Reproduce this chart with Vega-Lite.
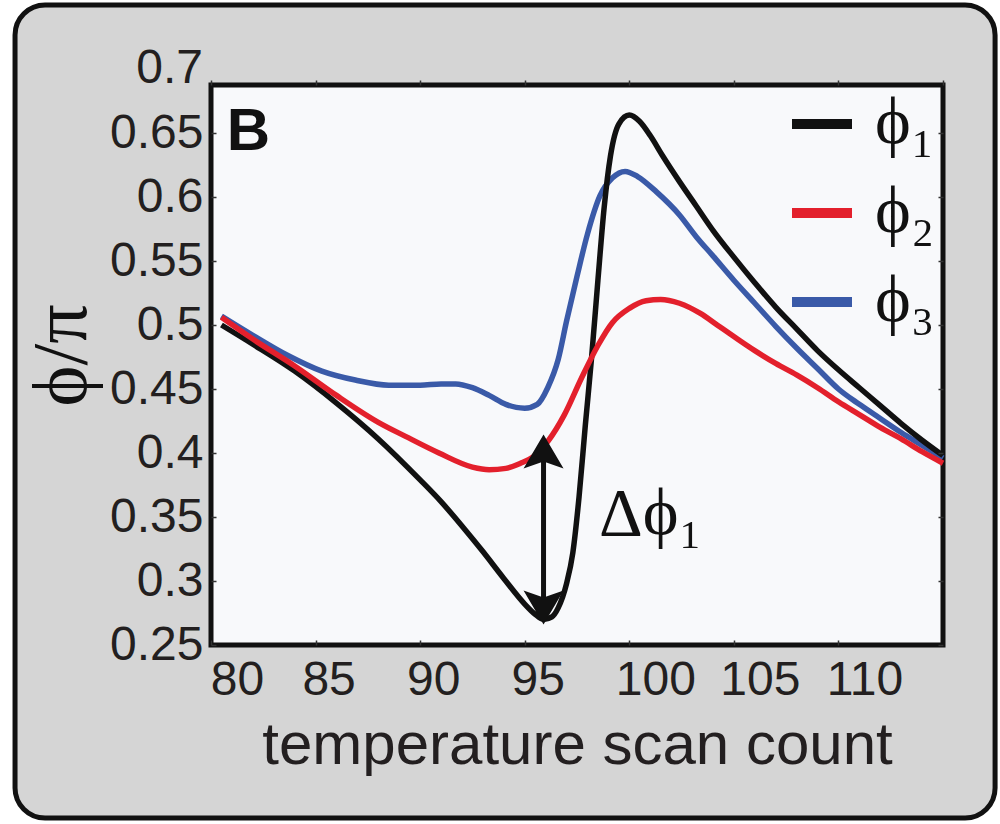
{
  "$schema": "https://vega.github.io/schema/vega-lite/v6.json",
  "width": 732,
  "height": 560,
  "autosize": {"type": "none"},
  "padding": {"left": 211, "top": 85, "right": 57, "bottom": 179},
  "background": "white",
  "config": {
    "view": {"stroke": null, "fill": null},
    "axis": {"grid": false, "domain": false, "labelFlush": false, "labelOverlap": false, "labelBound": false},
    "text": {"font": "Liberation Sans"}
  },
  "datasets": {
    "one": [{}],
    "curves": [
      {"series": "ϕ₃", "t": 80.5, "phi": 0.507}, {"series": "ϕ₃", "t": 82, "phi": 0.492}, {"series": "ϕ₃", "t": 83.7, "phi": 0.476}, {"series": "ϕ₃", "t": 85.3, "phi": 0.464}, {"series": "ϕ₃", "t": 86.9, "phi": 0.457}, {"series": "ϕ₃", "t": 88.5, "phi": 0.453}, {"series": "ϕ₃", "t": 90, "phi": 0.453}, {"series": "ϕ₃", "t": 91, "phi": 0.454}, {"series": "ϕ₃", "t": 91.7, "phi": 0.454}, {"series": "ϕ₃", "t": 92.5, "phi": 0.451}, {"series": "ϕ₃", "t": 93.3, "phi": 0.445}, {"series": "ϕ₃", "t": 94.1, "phi": 0.438}, {"series": "ϕ₃", "t": 95.0, "phi": 0.435}, {"series": "ϕ₃", "t": 95.6, "phi": 0.438}, {"series": "ϕ₃", "t": 96.1, "phi": 0.451}, {"series": "ϕ₃", "t": 96.6, "phi": 0.473}, {"series": "ϕ₃", "t": 97.0, "phi": 0.503}, {"series": "ϕ₃", "t": 97.5, "phi": 0.538}, {"series": "ϕ₃", "t": 98.0, "phi": 0.571}, {"series": "ϕ₃", "t": 98.6, "phi": 0.601}, {"series": "ϕ₃", "t": 99.2, "phi": 0.615}, {"series": "ϕ₃", "t": 99.8, "phi": 0.620}, {"series": "ϕ₃", "t": 100.4, "phi": 0.616}, {"series": "ϕ₃", "t": 101.3, "phi": 0.604}, {"series": "ϕ₃", "t": 102.4, "phi": 0.586}, {"series": "ϕ₃", "t": 103.2, "phi": 0.569}, {"series": "ϕ₃", "t": 104, "phi": 0.554}, {"series": "ϕ₃", "t": 105, "phi": 0.535}, {"series": "ϕ₃", "t": 106, "phi": 0.517}, {"series": "ϕ₃", "t": 107, "phi": 0.499}, {"series": "ϕ₃", "t": 108, "phi": 0.482}, {"series": "ϕ₃", "t": 109, "phi": 0.466}, {"series": "ϕ₃", "t": 110, "phi": 0.450}, {"series": "ϕ₃", "t": 111, "phi": 0.438}, {"series": "ϕ₃", "t": 112, "phi": 0.427}, {"series": "ϕ₃", "t": 113, "phi": 0.416}, {"series": "ϕ₃", "t": 114, "phi": 0.406}, {"series": "ϕ₃", "t": 115, "phi": 0.396},
      {"series": "ϕ₁", "t": 80.5, "phi": 0.500}, {"series": "ϕ₁", "t": 82, "phi": 0.485}, {"series": "ϕ₁", "t": 84, "phi": 0.464}, {"series": "ϕ₁", "t": 86, "phi": 0.439}, {"series": "ϕ₁", "t": 88, "phi": 0.411}, {"series": "ϕ₁", "t": 90, "phi": 0.379}, {"series": "ϕ₁", "t": 91, "phi": 0.362}, {"series": "ϕ₁", "t": 92, "phi": 0.343}, {"series": "ϕ₁", "t": 93, "phi": 0.323}, {"series": "ϕ₁", "t": 94, "phi": 0.302}, {"series": "ϕ₁", "t": 95, "phi": 0.282}, {"series": "ϕ₁", "t": 95.5, "phi": 0.274}, {"series": "ϕ₁", "t": 95.9, "phi": 0.270}, {"series": "ϕ₁", "t": 96.3, "phi": 0.272}, {"series": "ϕ₁", "t": 96.6, "phi": 0.279}, {"series": "ϕ₁", "t": 97.0, "phi": 0.298}, {"series": "ϕ₁", "t": 97.3, "phi": 0.322}, {"series": "ϕ₁", "t": 97.6, "phi": 0.366}, {"series": "ϕ₁", "t": 97.9, "phi": 0.422}, {"series": "ϕ₁", "t": 98.2, "phi": 0.475}, {"series": "ϕ₁", "t": 98.5, "phi": 0.535}, {"series": "ϕ₁", "t": 98.8, "phi": 0.592}, {"series": "ϕ₁", "t": 99.1, "phi": 0.632}, {"series": "ϕ₁", "t": 99.5, "phi": 0.657}, {"series": "ϕ₁", "t": 100.0, "phi": 0.664}, {"series": "ϕ₁", "t": 100.5, "phi": 0.659}, {"series": "ϕ₁", "t": 101.0, "phi": 0.648}, {"series": "ϕ₁", "t": 101.6, "phi": 0.632}, {"series": "ϕ₁", "t": 102.4, "phi": 0.612}, {"series": "ϕ₁", "t": 103.2, "phi": 0.593}, {"series": "ϕ₁", "t": 104, "phi": 0.574}, {"series": "ϕ₁", "t": 105, "phi": 0.553}, {"series": "ϕ₁", "t": 106, "phi": 0.533}, {"series": "ϕ₁", "t": 107, "phi": 0.514}, {"series": "ϕ₁", "t": 108, "phi": 0.497}, {"series": "ϕ₁", "t": 109, "phi": 0.480}, {"series": "ϕ₁", "t": 110, "phi": 0.465}, {"series": "ϕ₁", "t": 111, "phi": 0.451}, {"series": "ϕ₁", "t": 112, "phi": 0.437}, {"series": "ϕ₁", "t": 113, "phi": 0.423}, {"series": "ϕ₁", "t": 114, "phi": 0.410}, {"series": "ϕ₁", "t": 115, "phi": 0.398},
      {"series": "ϕ₂", "t": 80.5, "phi": 0.506}, {"series": "ϕ₂", "t": 82, "phi": 0.489}, {"series": "ϕ₂", "t": 84, "phi": 0.468}, {"series": "ϕ₂", "t": 86, "phi": 0.445}, {"series": "ϕ₂", "t": 88, "phi": 0.424}, {"series": "ϕ₂", "t": 89.3, "phi": 0.413}, {"series": "ϕ₂", "t": 90.9, "phi": 0.400}, {"series": "ϕ₂", "t": 92.5, "phi": 0.389}, {"series": "ϕ₂", "t": 93.3, "phi": 0.387}, {"series": "ϕ₂", "t": 94.1, "phi": 0.388}, {"series": "ϕ₂", "t": 94.8, "phi": 0.392}, {"series": "ϕ₂", "t": 95.4, "phi": 0.397}, {"series": "ϕ₂", "t": 96.1, "phi": 0.409}, {"series": "ϕ₂", "t": 96.9, "phi": 0.430}, {"series": "ϕ₂", "t": 97.7, "phi": 0.458}, {"series": "ϕ₂", "t": 98.5, "phi": 0.484}, {"series": "ϕ₂", "t": 99.2, "phi": 0.502}, {"series": "ϕ₂", "t": 100, "phi": 0.513}, {"series": "ϕ₂", "t": 100.8, "phi": 0.519}, {"series": "ϕ₂", "t": 101.5, "phi": 0.520}, {"series": "ϕ₂", "t": 102.4, "phi": 0.517}, {"series": "ϕ₂", "t": 103.4, "phi": 0.509}, {"series": "ϕ₂", "t": 104.2, "phi": 0.500}, {"series": "ϕ₂", "t": 105, "phi": 0.491}, {"series": "ϕ₂", "t": 106, "phi": 0.480}, {"series": "ϕ₂", "t": 107, "phi": 0.470}, {"series": "ϕ₂", "t": 108, "phi": 0.461}, {"series": "ϕ₂", "t": 109, "phi": 0.451}, {"series": "ϕ₂", "t": 110, "phi": 0.440}, {"series": "ϕ₂", "t": 111, "phi": 0.430}, {"series": "ϕ₂", "t": 112, "phi": 0.420}, {"series": "ϕ₂", "t": 113, "phi": 0.411}, {"series": "ϕ₂", "t": 114, "phi": 0.401}, {"series": "ϕ₂", "t": 115, "phi": 0.392}
    ]
  },
  "layer": [
    {
      "data": {"name": "one"},
      "mark": {"type": "rect", "fill": "#d5d5d5", "stroke": "#111111", "strokeWidth": 5, "cornerRadius": 30},
      "encoding": {
        "x": {"datum": 70.63, "type": "quantitative", "scale": {"domain": [80, 115], "nice": false, "zero": false}, "axis": null},
        "x2": {"datum": 117.49},
        "y": {"datum": 0.75, "type": "quantitative", "scale": {"domain": [0.25, 0.6875], "nice": false, "zero": false}, "axis": null},
        "y2": {"datum": 0.1148}
      }
    },
    {
      "data": {"name": "one"},
      "mark": {"type": "rect", "fill": "#f8f9fb", "stroke": "#111111", "strokeWidth": 5},
      "encoding": {
        "x": {"datum": 80, "type": "quantitative", "scale": {"domain": [80, 115], "nice": false, "zero": false}, "axis": null},
        "x2": {"datum": 115},
        "y": {"datum": 0.25, "type": "quantitative", "scale": {"domain": [0.25, 0.6875], "nice": false, "zero": false}, "axis": null},
        "y2": {"datum": 0.6875}
      }
    },
    {
      "data": {"name": "curves"},
      "mark": {"type": "line", "strokeWidth": 5.5, "interpolate": "monotone"},
      "encoding": {
        "x": {"field": "t", "type": "quantitative", "scale": {"domain": [80, 115], "nice": false, "zero": false},
          "axis": {"orient": "bottom", "zindex": 2, "values": [80, 85, 90, 95, 100, 105, 110], "format": "d", "tickSize": -5, "tickWidth": 1.5, "tickColor": "#333333",
            "labelFont": "Liberation Sans", "labelFontSize": 48, "labelColor": "#231f20", "labelPadding": 16,
            "labelOffset": {"condition": {"test": "datum.value == 80 || datum.value >= 100", "value": 26}, "value": 13},
            "title": "temperature scan count", "titleFont": "Liberation Sans", "titleFontSize": 60, "titleFontWeight": "normal", "titleColor": "#231f20", "titlePadding": 12}},
        "y": {"field": "phi", "type": "quantitative", "scale": {"domain": [0.25, 0.6875], "nice": false, "zero": false},
          "axis": {"orient": "left", "zindex": 2, "values": [0.25, 0.3, 0.35, 0.4, 0.45, 0.5, 0.55, 0.6, 0.65], "format": "~g", "tickSize": -5, "tickWidth": 1.5, "tickColor": "#333333",
            "labelFont": "Liberation Sans", "labelFontSize": 48, "labelColor": "#231f20", "labelPadding": 13,
            "title": "ϕ/π", "titleFont": "Liberation Serif", "titleFontSize": 78, "titleFontWeight": "normal", "titleColor": "#111111", "titlePadding": 8, "titleY": 270}},
        "color": {"field": "series", "type": "nominal",
          "scale": {"domain": ["ϕ₁", "ϕ₂", "ϕ₃"], "range": ["#111111", "#e3202c", "#3a5aa8"]},
          "legend": {"orient": "none", "legendX": 576, "legendY": 4, "title": null, "padding": 0, "symbolType": "stroke", "symbolSize": 3600, "symbolStrokeWidth": 10,
            "labelFont": "Liberation Serif", "labelFontSize": 68, "labelColor": "#111111", "labelOffset": 18, "rowPadding": 20, "labelLimit": 0}}
      }
    },
    {
      "data": {"name": "one"},
      "mark": {"type": "rule", "strokeWidth": 5, "color": "#111111"},
      "encoding": {
        "x": {"datum": 95.9, "type": "quantitative", "scale": {"domain": [80, 115], "nice": false, "zero": false},
          "axis": {"orient": "top", "zindex": 2, "values": [80, 85, 90, 95, 100, 105, 110, 115], "labels": false, "tickSize": 5, "tickWidth": 1.5, "tickColor": "#333333", "title": null}},
        "y": {"datum": 0.399, "type": "quantitative", "scale": {"domain": [0.25, 0.6875], "nice": false, "zero": false},
          "axis": {"orient": "right", "zindex": 2, "values": [0.25, 0.3, 0.35, 0.4, 0.45, 0.5, 0.55, 0.6, 0.65], "labels": false, "tickSize": -5, "tickWidth": 1.5, "tickColor": "#333333", "title": null}},
        "y2": {"datum": 0.282}
      }
    },
    {
      "data": {"name": "one"},
      "mark": {"type": "point", "shape": "M0,-1L1,0.7L0,0.35L-1,0.7Z", "size": 1600, "filled": true, "color": "#111111", "opacity": 1},
      "encoding": {
        "x": {"datum": 95.9, "type": "quantitative", "scale": {"domain": [80, 115], "nice": false, "zero": false}, "axis": null},
        "y": {"datum": 0.3988, "type": "quantitative", "scale": {"domain": [0.25, 0.6875], "nice": false, "zero": false}, "axis": null}
      }
    },
    {
      "data": {"name": "one"},
      "mark": {"type": "point", "shape": "M0,1L1,-0.7L0,-0.35L-1,-0.7Z", "size": 1600, "filled": true, "color": "#111111", "opacity": 1},
      "encoding": {
        "x": {"datum": 95.9, "type": "quantitative", "scale": {"domain": [80, 115], "nice": false, "zero": false}, "axis": null},
        "y": {"datum": 0.2816, "type": "quantitative", "scale": {"domain": [0.25, 0.6875], "nice": false, "zero": false}, "axis": null}
      }
    },
    {
      "data": {"name": "one"},
      "mark": {"type": "text", "text": "Δϕ₁", "font": "Liberation Serif", "fontSize": 68, "align": "left", "baseline": "alphabetic", "color": "#111111"},
      "encoding": {
        "x": {"datum": 98.55, "type": "quantitative", "scale": {"domain": [80, 115], "nice": false, "zero": false}, "axis": null},
        "y": {"datum": 0.336, "type": "quantitative", "scale": {"domain": [0.25, 0.6875], "nice": false, "zero": false}, "axis": null}
      }
    },
    {
      "data": {"name": "one"},
      "mark": {"type": "text", "text": "B", "font": "Liberation Sans", "fontWeight": "bold", "fontSize": 60, "align": "left", "baseline": "alphabetic", "color": "#111111"},
      "encoding": {
        "x": {"datum": 80.75, "type": "quantitative", "scale": {"domain": [80, 115], "nice": false, "zero": false}, "axis": null},
        "y": {"datum": 0.637, "type": "quantitative", "scale": {"domain": [0.25, 0.6875], "nice": false, "zero": false}, "axis": null}
      }
    },
    {
      "data": {"name": "one"},
      "mark": {"type": "text", "text": "0.7", "font": "Liberation Sans", "fontSize": 48, "align": "right", "baseline": "middle", "dx": -8, "color": "#231f20"},
      "encoding": {
        "x": {"datum": 80, "type": "quantitative", "scale": {"domain": [80, 115], "nice": false, "zero": false}, "axis": null},
        "y": {"datum": 0.7, "type": "quantitative", "scale": {"domain": [0.25, 0.6875], "nice": false, "zero": false}, "axis": null}
      }
    }
  ],
  "resolve": {"axis": {"x": "independent", "y": "independent"}}
}
